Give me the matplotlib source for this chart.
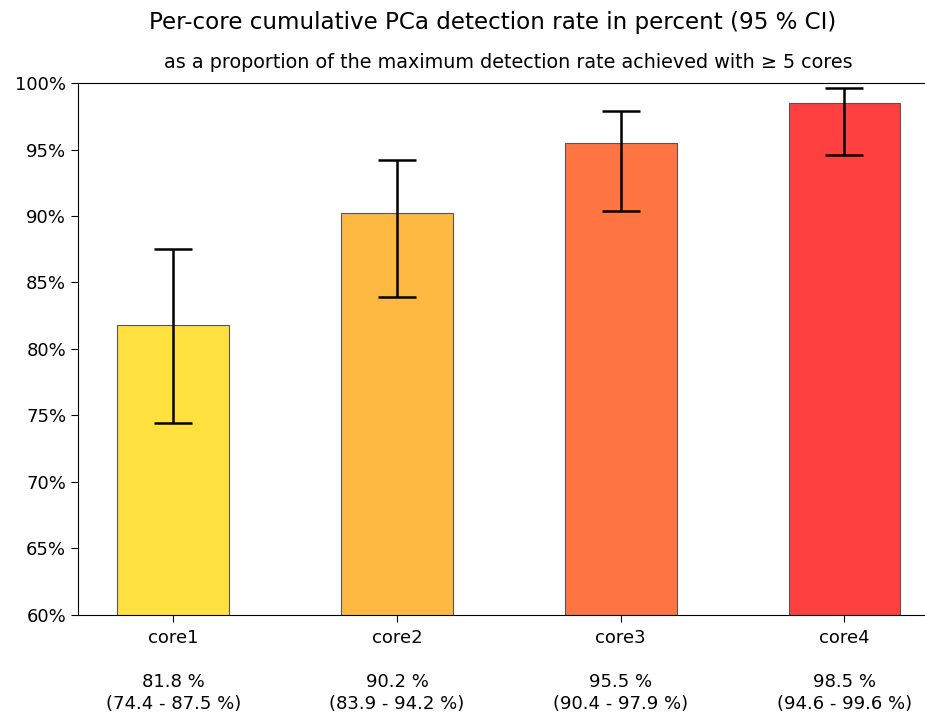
import numpy as np
import matplotlib
matplotlib.use("Agg")
import matplotlib.pyplot as plt
from matplotlib.ticker import FuncFormatter

# -----------------------------
# Data
# -----------------------------
cores = ["core1", "core2", "core3", "core4"]
rates = [81.8, 90.2, 95.5, 98.5]
ci_low = [74.4, 83.9, 90.4, 94.6]
ci_high = [87.5, 94.2, 97.9, 99.6]
colors = ["#FEE03E", "#FDB942", "#FE7442", "#FE4040"]

# -----------------------------
# Plot
# -----------------------------
fig = plt.figure(figsize=(9.25, 7.15), dpi=100)
ax = fig.add_axes([0.0843, 0.1399, 0.9157, 0.744])

x = np.arange(len(cores))
yerr = np.array([np.array(rates) - np.array(ci_low),
                 np.array(ci_high) - np.array(rates)])

ax.bar(x, rates, width=0.5, color=colors, edgecolor="#555555", linewidth=0.8,
       yerr=yerr, capsize=14,
       error_kw=dict(ecolor="black", elinewidth=1.8, capthick=1.8))

labels = [f"{c}\n\n{r:.1f} %\n({lo:.1f} - {hi:.1f} %)"
          for c, r, lo, hi in zip(cores, rates, ci_low, ci_high)]
ax.set_xticks(x)
ax.set_xticklabels(labels, fontsize=13, linespacing=1.3)
ax.set_xlim(-0.426, 3.36)

ax.set_ylim(60, 100)
ax.set_yticks(np.arange(60, 101, 5))
ax.yaxis.set_major_formatter(FuncFormatter(lambda v, p: f"{v:.0f}%"))
ax.tick_params(axis="y", labelsize=13, length=5)
ax.tick_params(axis="x", length=5, pad=5)
ax.spines["right"].set_visible(False)

fig.text(0.533, 0.969, "Per-core cumulative PCa detection rate in percent (95 % CI)",
         ha="center", va="center", fontsize=16.6)
fig.text(0.549, 0.912, "as a proportion of the maximum detection rate achieved with \u2265 5 cores",
         ha="center", va="center", fontsize=13.8)

fig.savefig("out.png", dpi=100)
